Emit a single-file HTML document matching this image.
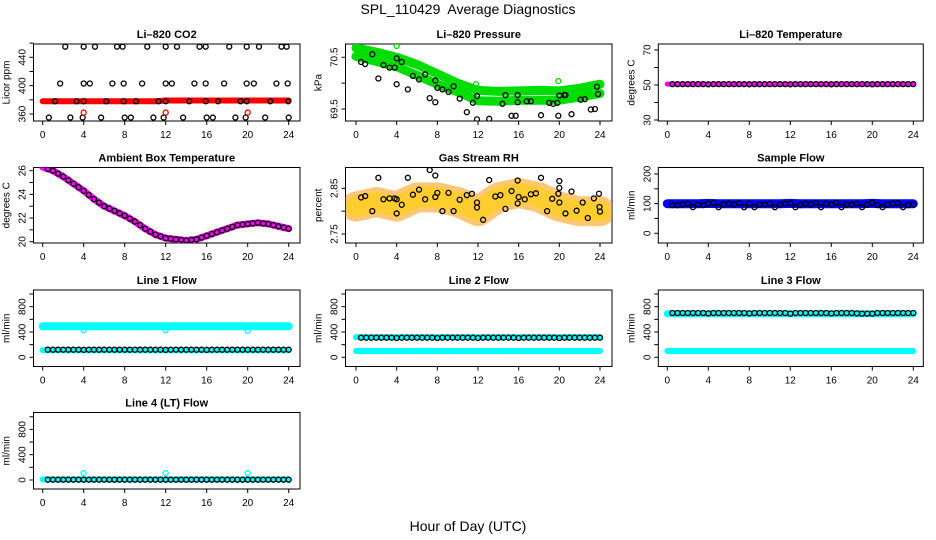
<!DOCTYPE html>
<html><head><meta charset="utf-8"><style>
html,body{margin:0;padding:0;background:#fff;}
svg{display:block;font-family:"Liberation Sans",Arial,sans-serif;}
</style></head><body>
<svg id="chart" width="936" height="540" viewBox="0 0 936 540" xmlns="http://www.w3.org/2000/svg">
<text x="468" y="14" text-anchor="middle" font-size="14" xml:space="preserve">SPL_110429  Average Diagnostics</text>
<text x="468" y="531" text-anchor="middle" font-size="14">Hour of Day (UTC)</text>
</svg>
<script>
// ---- data ----
const bandHours = [0,1,2,3,4,5,6,7,8,9,10,11,12,13,14,15,16,17,18,19,20,21,22,23,24];
const co2Band = [378,378,378,378,378,378,378,378,378,378,378,378,379,379,379,379,379,379,379,379,379,379,379,379,379];
const co2T = [2.2,4.0,5.1,7.25,7.8,10.2,12.0,13.1,15.3,15.9,18.2,19.9,21.1,23.3,23.8,
  1.7,4.0,4.6,6.8,7.9,9.7,12.0,12.6,14.8,15.9,17.7,19.9,20.6,22.8,23.9,
  1.2,3.3,4.0,6.2,7.9,9.1,11.3,12.0,14.3,15.9,17.1,19.3,19.9,22.2,23.96,
  0.6,2.7,3.9,5.7,8.0,8.6,10.8,11.8,13.7,16.0,16.6,18.8,19.8,21.7,24.0];
const co2V = [455,455,455,455,455,455,455,455,455,455,455,455,455,455,455,
  403,403,403,403,403,403,403,403,403,403,403,403,403,403,403,
  378,378,378,378,378,378,378,378,378,378,378,378,378,378,378,
  355,355,355,355,355,355,355,355,355,355,355,355,355,355,355];
const co2RedT = [4,12,20];
const co2RedV = [362,362,362];

const presHours = [0,2,4,6,8,10,12,14,16,18,20,22,24];
const presUpper = [70.68,70.6,70.5,70.36,70.18,70.0,69.86,69.84,69.85,69.86,69.85,69.9,69.98];
const presLower = [70.52,70.42,70.32,70.15,69.98,69.83,69.66,69.65,69.67,69.67,69.67,69.73,69.8];
const presT = [0.5,0.9,1.6,2.2,2.7,3.3,3.8,4.0,4.0,4.5,5.1,5.6,6.2,6.8,7.25,7.8,7.8,8.0,8.5,9.1,9.6,10.2,10.9,11.5,11.9,11.9,13.1,14.4,14.7,15.3,15.7,15.9,15.9,16.8,17.2,18.2,19.0,19.4,19.8,19.9,20.0,20.5,20.6,21.2,22.1,22.5,23.1,23.5,23.7,23.8];
const presV = [70.41,70.37,70.56,70.09,70.35,70.3,70.3,70.48,69.98,70.41,69.88,70.14,70.07,70.17,69.71,69.63,70.05,69.91,69.88,69.83,69.94,69.7,69.44,69.62,69.3,69.75,69.31,69.6,69.77,69.37,69.37,69.77,69.63,69.65,69.65,69.38,69.62,69.6,69.62,69.37,69.76,69.77,69.77,69.4,69.68,69.69,69.49,69.5,69.93,69.79];
const presGreenT = [4,11.8,19.9];
const presGreenV = [70.72,69.98,70.04];

const tempBand = [50.5,50.5,50.5,50.5,50.5,50.5,50.5,50.5,50.5,50.5,50.5,50.5,50.5,50.5,50.5,50.5,50.5,50.5,50.5,50.5,50.5,50.5,50.5,50.5,50.5];
const tempPts = [50.5,50.5,50.5,50.5,50.5,50.5,50.5,50.4,50.5,50.5,50.5,50.5,50.5,50.5,50.5,50.4,50.5,50.5,50.5,50.5,50.5,50.5,50.5,50.4,50.5,50.5,50.5,50.5,50.5,50.5,50.5,50.4,50.5,50.5,50.5,50.5,50.5,50.5,50.5,50.4,50.5,50.5,50.5,50.5,50.5,50.5,50.5,50.5];

const ambBand = [26.3,26.0,25.5,24.9,24.3,23.6,23.0,22.6,22.2,21.7,21.1,20.6,20.3,20.2,20.1,20.2,20.5,20.8,21.1,21.4,21.5,21.6,21.5,21.3,21.1];
const ambPts = [26.15,26.0,25.75,25.5,25.2,24.9,24.6,24.3,23.95,23.6,23.3,23.0,22.8,22.6,22.4,22.2,21.95,21.7,21.4,21.1,20.85,20.6,20.45,20.3,20.25,20.2,20.15,20.1,20.15,20.2,20.35,20.5,20.65,20.8,20.95,21.1,21.25,21.4,21.45,21.5,21.55,21.6,21.55,21.5,21.4,21.3,21.2,21.1];

const rhHours = [0,2,4,6,8,10,12,14,16,18,20,22,24];
const rhBand = [2.81,2.82,2.81,2.83,2.83,2.82,2.80,2.83,2.84,2.83,2.81,2.80,2.80];
const rhT = [0.5,0.9,1.6,2.2,2.7,3.3,3.8,4.0,4.0,4.5,5.1,5.6,6.2,6.8,7.25,7.8,7.8,8.0,8.5,9.1,9.6,10.2,10.9,11.4,11.9,11.9,12.5,13.1,13.7,14.2,14.7,15.3,15.9,15.9,16.0,16.6,17.2,17.7,18.2,18.8,19.3,19.9,20.0,20.0,20.0,20.6,21.2,21.7,22.3,22.8,23.4,23.9,23.95,24.0];
const rhV = [2.830,2.833,2.800,2.873,2.826,2.828,2.828,2.826,2.795,2.814,2.873,2.836,2.847,2.826,2.890,2.878,2.831,2.840,2.800,2.840,2.800,2.825,2.835,2.838,2.808,2.819,2.781,2.868,2.832,2.835,2.805,2.844,2.817,2.867,2.831,2.826,2.837,2.839,2.873,2.800,2.827,2.838,2.851,2.866,2.819,2.795,2.843,2.801,2.819,2.785,2.828,2.838,2.809,2.799];

const sampleBand = [100,100,100,100,101,100,100,100,100,100,100,100,101,100,100,100,100,100,100,100,101,100,100,100,100];
const samplePts = [95,95,97,100,88,97,95,100,103,88,97,100,97,102,88,100,88,97,97,100,88,97,100,102,88,95,100,97,103,88,100,97,103,88,97,97,100,88,97,103,95,88,97,100,102,88,95,97];

const l1Upper = [490,490,490,490,490,490,490,490,490,490,490,490,490,490,490,490,490,490,490,490,490,490,490,490,490];
const l1Lower = [110,110,110,110,110,110,110,110,110,110,110,110,110,110,110,110,110,110,110,110,110,110,110,110,110];
const l1Pts = [120,120,120,120,120,120,120,118,120,120,120,120,120,120,120,120,120,120,120,120,120,120,120,118,120,120,120,120,120,120,120,118,120,120,120,120,120,120,120,120,120,120,120,120,120,120,120,120];
const l1OutT = [4,12,20];
const l1OutV = [430,430,420];

const l2Upper = [320,320,320,320,320,320,320,320,320,320,320,320,320,320,320,320,320,320,320,320,320,320,320,320,320];
const l2Lower = [100,100,100,100,100,100,100,100,100,100,100,100,100,100,100,100,100,100,100,100,100,100,100,100,100];
const l2Pts = [310,310,310,310,310,310,310,305,310,310,310,310,310,310,310,305,310,310,310,310,310,310,310,305,310,310,310,310,310,310,310,305,310,310,310,310,310,310,310,305,310,310,310,310,310,310,310,310];

const l3Upper = [690,690,690,690,690,690,690,690,690,690,690,690,690,690,690,690,690,690,690,690,690,690,690,690,690];
const l3Lower = [100,100,100,100,100,100,100,100,100,100,100,100,100,100,100,100,100,100,100,100,100,100,100,100,100];
const l3Pts = [700,700,700,700,700,700,700,695,700,700,700,700,700,700,700,695,700,700,700,700,700,700,700,690,700,700,700,700,700,700,700,695,700,700,700,700,695,690,690,690,700,700,700,700,700,700,700,700];

const l4Band = [10,10,10,10,10,10,10,10,10,10,10,10,10,10,10,10,10,10,10,10,10,10,10,10,10];
const l4Pts = [5,5,5,5,5,5,5,5,5,5,5,5,5,5,5,5,5,5,5,5,5,5,5,5,5,5,5,5,5,5,5,5,5,5,5,5,5,5,5,5,5,5,5,5,5,5,5,5];
const l4OutT = [4,12,20];
const l4OutV = [110,110,110];

const xTicks = [0,4,8,12,16,20,24];

// ---- drawing ----
const svg = document.getElementById('chart');
const NS = 'http://www.w3.org/2000/svg';
function mk(tag, attrs, parent){ const e=document.createElementNS(NS,tag); for(const k in attrs) e.setAttribute(k,attrs[k]); (parent||svg).appendChild(e); return e; }

const cols = [{x0:42.7,x24:288.7,l:33.5,r:300},{x0:356,x24:600,l:345.5,r:612},{x0:667.3,x24:913.3,l:658.3,r:923.3}];
const rows = [{t:44,b:121},{t:167.5,b:243},{t:290,b:366.5},{t:412.5,b:489}];

function halfHours(n){ const a=[]; for(let i=0;i<n;i++) a.push(0.5+i*0.5); return a; }

function panel(name, title, ytitle, col, row, v1, p1, v2, p2, ticks, labels){
  const c=cols[col], r=rows[row];
  const g = mk('g',{});
  
  
  const X = t => c.x0 + (c.x24-c.x0)*t/24;
  const Y = v => p1 + (p2-p1)*(v-v1)/(v2-v1);
  const box = mk('rect',{x:c.l,y:r.t,width:c.r-c.l,height:r.b-r.t,fill:'none',stroke:'#000','stroke-width':1},g);
  
  
  const tt = mk('text',{x:(c.l+c.r)/2,y:r.t-6,'text-anchor':'middle','font-size':11,'font-weight':'bold'},g);
  tt.textContent = title;
  
  
  xTicks.forEach(t=>{
    mk('line',{x1:X(t),x2:X(t),y1:r.b,y2:r.b+4,stroke:'#000'},g);
    const lb = mk('text',{x:X(t),y:r.b+17,'text-anchor':'middle','font-size':10},g);
    lb.textContent = t;
    
    
  });
  ticks.forEach(v=>{
    const y=Y(v);
    mk('line',{x1:c.l-4,x2:c.l,y1:y,y2:y,stroke:'#000'},g);
  });
  labels.forEach(v=>{
    const y=Y(v), x=c.l-8;
    const lb = mk('text',{x:x,y:y,'text-anchor':'middle','font-size':10,transform:`rotate(-90 ${x} ${y})`},g);
    lb.textContent = v;
    
    
  });
  const yx=c.l-24, ym=(r.t+r.b)/2;
  const yt = mk('text',{x:yx,y:ym,'text-anchor':'middle','font-size':10,transform:`rotate(-90 ${yx} ${ym})`},g);
  yt.textContent = ytitle;
  
  
  const clipId='clip-'+name;
  const cp = mk('clipPath',{id:clipId},g);
  mk('rect',{x:c.l,y:r.t,width:c.r-c.l,height:r.b-r.t},cp);
  const data = mk('g',{'clip-path':`url(#${clipId})`},g);
  return {
    band(ts, vs, color, w, nm, op){
      const pts = ts.map((t,i)=>X(t).toFixed(1)+','+Y(vs[i]).toFixed(1)).join(' ');
      const pl = mk('polyline',{points:pts,fill:'none',stroke:color,'stroke-width':w,'stroke-linecap':'round','stroke-linejoin':'round',opacity:op||1},data);
      
      
    },
    pts(ts, vs, color, nm, rad){
      vs.forEach((v,i)=>{
        const ci = mk('circle',{cx:X(ts[i]),cy:Y(v),r:rad||2.5,fill:'none',stroke:color,'stroke-width':1.3},data);
        
        
      });
    }
  };
}

let p = panel('co2-panel','Li\u2013820 CO2','Licor ppm',0,0,360,114,440,57.3,[360,380,400,420,440,460],[360,400,440]);
p.band(bandHours, co2Band, '#ff0000', 6, 'co2-minute-band');
p.pts(co2T, co2V, '#000', 'co2-point');
p.pts(co2RedT, co2RedV, '#ff0000', 'co2-red-point');

p = panel('pressure-panel','Li\u2013820 Pressure','kPa',1,0,70.5,57.3,69.5,109,[69.5,70.0,70.5],['70.5','69.5']);
p.band(presHours, presUpper, '#00dd00', 9, 'pressure-upper-band');
p.band(presHours, presLower, '#00dd00', 9, 'pressure-lower-band');
p.pts(presGreenT, presGreenV, '#00dd00', 'pressure-green-point');
p.pts(presT, presV, '#000', 'pressure-point');

p = panel('li820-temp-panel','Li\u2013820 Temperature','degrees C',2,0,70,50,30,120,[30,40,50,60,70],[30,50,70]);
p.band(bandHours, tempBand, '#ff00ff', 5, 'li820-temp-band');
p.pts(halfHours(tempPts.length), tempPts, '#000', 'li820-temp-point');

p = panel('ambient-panel','Ambient Box Temperature','degrees C',0,1,26,170.7,20,241.7,[20,21,22,23,24,25,26],[20,22,24,26]);
p.band(bandHours, ambBand, '#ff00ff', 7, 'ambient-band');
p.pts(halfHours(ambPts.length), ambPts, '#000', 'ambient-point');

p = panel('rh-panel','Gas Stream RH','percent',1,1,2.85,188.3,2.75,234,[2.75,2.80,2.85],['2.75','2.85']);
p.band(rhHours, rhBand, '#ff9900', 30, 'rh-band-outer', 0.55);
p.band(rhHours, rhBand, '#ffd000', 20, 'rh-band-inner', 0.6);
p.pts(rhT, rhV, '#000', 'rh-point');

p = panel('sample-flow-panel','Sample Flow','ml/min',2,1,0,233.3,200,174,[0,50,100,150,200],[0,100,200]);
p.band(bandHours, sampleBand, '#0000ff', 9, 'sample-flow-band');
p.pts(halfHours(samplePts.length), samplePts, '#000', 'sample-flow-point');

const flowTicks=[0,200,400,600,800,1000], flowLabels=[0,400,800];
p = panel('line1-panel','Line 1 Flow','ml/min',0,2,0,357.3,800,306.7,flowTicks,flowLabels);
p.band(bandHours, l1Upper, '#00ffff', 8, 'line1-upper-band');
p.pts(l1OutT, l1OutV, '#00ffff', 'line1-cyan-point');
p.band(bandHours, l1Lower, '#00ffff', 6, 'line1-lower-band');
p.pts(halfHours(l1Pts.length), l1Pts, '#000', 'line1-point');

p = panel('line2-panel','Line 2 Flow','ml/min',1,2,0,357.3,800,306.7,flowTicks,flowLabels);
p.band(bandHours, l2Upper, '#00ffff', 6, 'line2-upper-band');
p.band(bandHours, l2Lower, '#00ffff', 6, 'line2-lower-band');
p.pts(halfHours(l2Pts.length), l2Pts, '#000', 'line2-point');

p = panel('line3-panel','Line 3 Flow','ml/min',2,2,0,357.3,800,306.7,flowTicks,flowLabels);
p.band(bandHours, l3Upper, '#00ffff', 7, 'line3-upper-band');
p.band(bandHours, l3Lower, '#00ffff', 6, 'line3-lower-band');
p.pts(halfHours(l3Pts.length), l3Pts, '#000', 'line3-point');

p = panel('line4-panel','Line 4 (LT) Flow','ml/min',0,3,0,480,800,429.4,flowTicks,flowLabels);
p.band(bandHours, l4Band, '#00ffff', 6, 'line4-band');
p.pts(l4OutT, l4OutV, '#00ffff', 'line4-cyan-point');
p.pts(halfHours(l4Pts.length), l4Pts, '#000', 'line4-point');
</script>
</body></html>
